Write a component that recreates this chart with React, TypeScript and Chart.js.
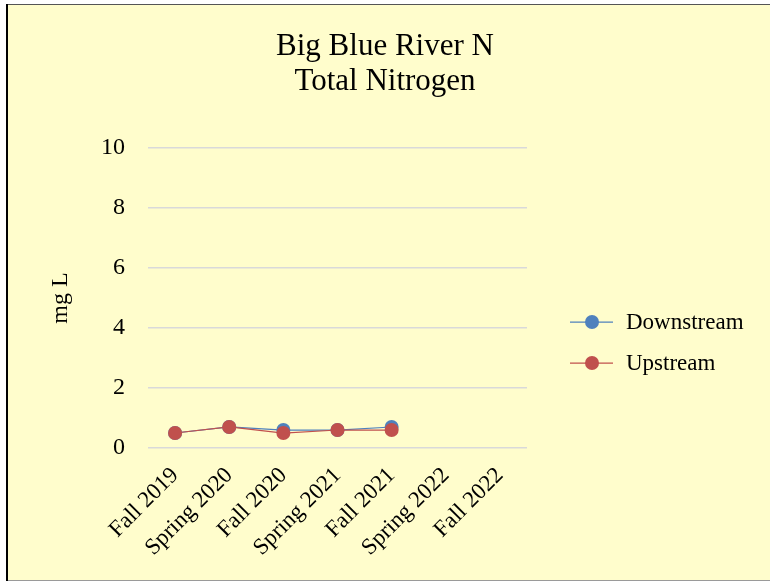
import React, { useEffect, useRef } from "react";
import { Chart, registerables } from "chart.js";

Chart.register(...registerables);

const categories = ["Fall 2019", "Spring 2020", "Fall 2020", "Spring 2021", "Fall 2021", "Spring 2022", "Fall 2022"];
const downstream = [0.5, 0.7, 0.6, 0.6, 0.7, null, null];
const upstream = [0.5, 0.7, 0.5, 0.6, 0.6, null, null];
const titleLines = ["Big Blue River N", "Total Nitrogen"];
const yTitle = "mg L";

const FONT = "'Liberation Serif', 'Times New Roman', serif";
const BLUE = "#4F81BD";
const RED = "#C0504D";
const BG = "#FFFDCC";

const framePlugin = {
  id: "frame",
  beforeDraw(chart: any) {
    const ctx = chart.ctx;
    ctx.save();
    ctx.fillStyle = "#FFFFFF";
    ctx.fillRect(0, 0, chart.width, chart.height);
    ctx.fillStyle = BG;
    ctx.fillRect(7, 5, chart.width - 7, 575);
    ctx.fillStyle = "#555555";
    ctx.fillRect(6, 4, chart.width - 6, 1);
    ctx.fillStyle = "#9a9a9a";
    ctx.fillRect(6, 580, chart.width - 6, 1);
    ctx.fillStyle = "#000000";
    ctx.fillRect(6, 4, 2, 577);
    ctx.restore();
  },
};

const legendPlugin = {
  id: "customLegend",
  afterDraw(chart: any) {
    const ctx = chart.ctx;
    const ds = chart.data.datasets;
    ctx.save();
    ds.forEach((d: any, i: number) => {
      const y = 322 + i * 41;
      ctx.strokeStyle = d.borderColor;
      ctx.lineWidth = 1.25;
      ctx.beginPath();
      ctx.moveTo(570, y);
      ctx.lineTo(613, y);
      ctx.stroke();
      ctx.fillStyle = d.pointBackgroundColor;
      ctx.beginPath();
      ctx.arc(592, y, 7, 0, Math.PI * 2);
      ctx.fill();
      ctx.fillStyle = "#000000";
      ctx.font = `23px ${FONT}`;
      ctx.textAlign = "left";
      ctx.textBaseline = "middle";
      ctx.fillText(d.label, 626, y + 1);
    });
    ctx.restore();
  },
};

export default function App() {
  const ref = useRef<HTMLCanvasElement | null>(null);

  useEffect(() => {
    if (!ref.current) return;
    const chart = new Chart(ref.current, {
      type: "line",
      data: {
        labels: categories,
        datasets: [
          {
            label: "Downstream",
            data: downstream,
            borderColor: BLUE,
            backgroundColor: BLUE,
            pointBackgroundColor: BLUE,
            pointBorderColor: BLUE,
            borderWidth: 1.25,
            pointRadius: 7,
            pointBorderWidth: 0,
            order: 1,
          },
          {
            label: "Upstream",
            data: upstream,
            borderColor: RED,
            backgroundColor: RED,
            pointBackgroundColor: RED,
            pointBorderColor: RED,
            borderWidth: 1.25,
            pointRadius: 7,
            pointBorderWidth: 0,
            order: 0,
          },
        ],
      },
      options: {
        responsive: false,
        animation: false,
        layout: { padding: { left: 0, right: 0, top: 0, bottom: 0 } },
        plugins: {
          legend: { display: false },
          tooltip: { enabled: false },
          title: {
            display: true,
            text: titleLines,
            color: "#000000",
            font: { family: FONT, size: 31, weight: "normal", lineHeight: 35 / 31 },
            padding: { top: 29, bottom: 49 },
          },
        },
        scales: {
          x: {
            offset: true,
            grid: { display: false, drawTicks: false },
            border: { display: false },
            ticks: {
              color: "#000000",
              font: { family: FONT, size: 23 },
              minRotation: 45,
              maxRotation: 45,
              padding: 14,
              autoSkip: false,
            },
            afterFit: (s: any) => {
              s.height = 134;
            },
          },
          y: {
            min: 0,
            max: 10,
            grid: { color: "#D9D9D9", lineWidth: 1.5, drawTicks: false },
            border: { display: false },
            ticks: {
              stepSize: 2,
              color: "#000000",
              font: { family: FONT, size: 24 },
              padding: 23,
            },
            title: {
              display: true,
              text: yTitle,
              color: "#000000",
              font: { family: FONT, size: 24 },
              padding: { top: 46, bottom: 0 },
            },
            afterFit: (s: any) => {
              s.width = 148;
            },
          },
          legendSpace: {
            position: "right",
            min: 0,
            max: 10,
            grid: { display: false, drawTicks: false },
            border: { display: false },
            ticks: { display: false },
            afterFit: (s: any) => {
              s.width = 243;
            },
          },
        },
      },
      plugins: [framePlugin, legendPlugin],
    });
    return () => chart.destroy();
  }, []);

  return (
    <div style={{ position: "fixed", left: 0, top: 0, width: 770, height: 582 }}>
      <canvas ref={ref} width={770} height={582} style={{ display: "block" }} />
    </div>
  );
}
